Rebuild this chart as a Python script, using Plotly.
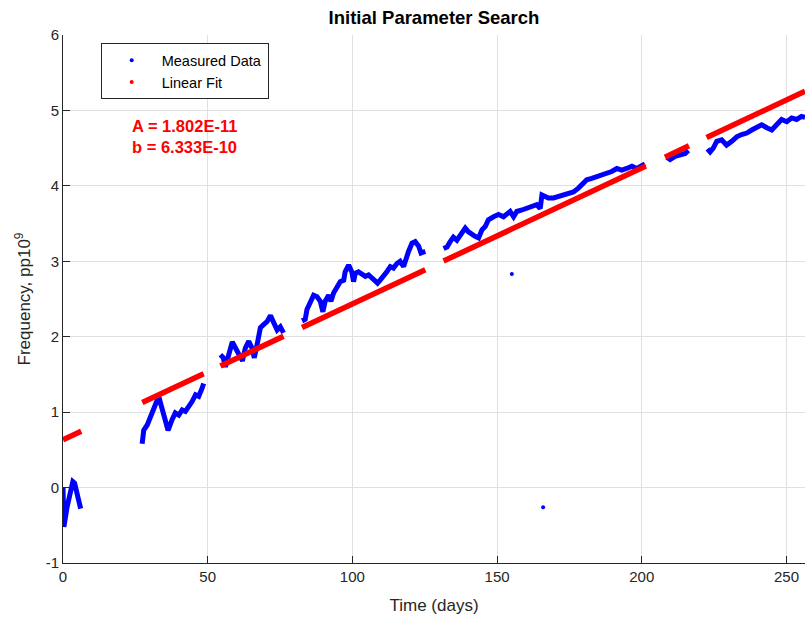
import plotly.graph_objects as go

# ---- Measured data (days, pp10^9), segments separated by None ----
seg1_t = [0.0, 0.1, 0.3, 1.45, 2.6, 3.4, 4.0, 4.9, 5.45, 6.1]
seg1_y = [0.0, -0.3, -0.52, -0.25, -0.08, 0.08, 0.06, -0.12, -0.19, -0.28]

seg2_t = [27.35, 27.9, 29.1, 30.2, 31.9, 33.1, 33.7, 34.8, 36.3, 37.7, 38.8, 40.0,
          41.2, 42.3, 43.4, 44.6, 45.8, 46.9, 48.1, 48.6]
seg2_y = [0.58, 0.76, 0.83, 0.94, 1.12, 1.21, 1.12, 0.94, 0.76, 0.90, 0.99, 0.96,
          1.03, 1.01, 1.07, 1.14, 1.23, 1.21, 1.32, 1.38]

seg3_t = [54.4, 55.4, 56.1, 57.3, 58.5, 59.6, 60.7, 62.0, 63.0, 64.2, 65.3, 66.1,
          67.2, 68.2, 69.3, 70.5, 71.7, 72.8, 74.0, 75.1, 76.2]
seg3_y = [1.76, 1.72, 1.60, 1.76, 1.93, 1.85, 1.76, 1.68, 1.85, 1.94, 1.85, 1.72,
          1.92, 2.12, 2.16, 2.20, 2.28, 2.18, 2.09, 2.13, 2.05]

seg4_t = [82.6, 83.7, 84.3, 85.5, 86.6, 87.8, 88.9, 89.8, 90.6, 91.8, 92.6, 93.5,
          94.7, 95.8, 97.0, 97.5, 98.7, 99.8, 100.4, 101.0, 102.1, 103.3, 104.5,
          105.6, 106.8, 107.9, 108.7, 109.6, 110.8, 111.9, 113.1, 114.2, 115.4,
          116.5, 117.7, 118.3, 119.4, 120.6, 121.7, 122.9, 123.7, 125.2]
seg4_y = [2.21, 2.23, 2.36, 2.47, 2.55, 2.53, 2.47, 2.33, 2.47, 2.55, 2.47, 2.58,
          2.66, 2.73, 2.75, 2.86, 2.95, 2.86, 2.73, 2.84, 2.86, 2.82, 2.80,
          2.82, 2.78, 2.75, 2.71, 2.75, 2.80, 2.86, 2.93, 2.91, 2.97,
          3.00, 2.93, 3.02, 3.13, 3.24, 3.26, 3.20, 3.11, 3.13]

seg5_t = [131.5, 132.7, 133.8, 134.9, 136.1, 137.3, 139.0, 140.1, 141.3, 142.4,
          143.6, 144.8, 145.9, 147.0, 148.8, 150.5, 152.2, 153.4, 154.5, 155.7,
          156.8, 158.6, 160.3, 162.0, 163.7, 164.9, 165.5, 166.6, 167.7, 169.5,
          171.2, 172.9, 174.7, 176.4, 178.1, 179.8, 181.0, 182.7, 184.5, 186.2,
          187.9, 189.6, 191.4, 193.1, 194.8, 196.6, 198.3, 200.0, 201.1]
seg5_y = [3.17, 3.19, 3.26, 3.32, 3.28, 3.35, 3.44, 3.39, 3.35, 3.33,
          3.31, 3.42, 3.46, 3.55, 3.59, 3.62, 3.59, 3.62, 3.66, 3.59,
          3.66, 3.68, 3.70, 3.73, 3.75, 3.70, 3.88, 3.86, 3.84, 3.84,
          3.86, 3.88, 3.90, 3.92, 3.97, 4.04, 4.08, 4.10, 4.12, 4.15,
          4.17, 4.19, 4.23, 4.21, 4.23, 4.26, 4.23, 4.26, 4.29]

seg6_t = [208.6, 209.8, 211.5, 213.8, 215.0, 216.1]
seg6_y = [4.38, 4.35, 4.39, 4.42, 4.43, 4.47]

seg7_t = [222.7, 223.6, 224.7, 225.9, 227.6, 229.3, 231.1, 232.8, 234.5, 236.3,
          238.0, 239.7, 241.4, 243.2, 244.9, 246.6, 248.3, 250.1, 251.8, 253.5,
          255.2, 256.4]
seg7_y = [4.49, 4.45, 4.50, 4.59, 4.61, 4.54, 4.59, 4.65, 4.68, 4.70,
          4.74, 4.77, 4.81, 4.77, 4.74, 4.81, 4.88, 4.85, 4.90, 4.88,
          4.92, 4.91]

outlier_t = [155.1, 165.9]
outlier_y = [2.83, -0.26]

# ---- Linear fit (A = 1.802E-11, b = 6.333E-10), segment ends ----
fit_t = [0.0, 6.3, None, 27.4, 48.6, None, 54.4, 76.2, None, 82.6, 125.2, None,
         131.5, 201.4, None, 208.0, 216.3, None, 222.4, 256.4]
fit_y = [0.633, 0.747, None, 1.127, 1.509, None, 1.613, 2.006, None, 2.122, 2.889, None,
         3.003, 4.263, None, 4.381, 4.531, None, 4.641, 5.254]

x_ticks = [0, 50, 100, 150, 200, 250]
y_ticks = [-1, 0, 1, 2, 3, 4, 5, 6]
y_tick_labels = ["-1", "0", "1", "2", "3", "4", "5", "6"]

segs_t = [seg1_t, seg2_t, seg3_t, seg4_t, seg5_t, seg6_t, seg7_t]
segs_y = [seg1_y, seg2_y, seg3_y, seg4_y, seg5_y, seg6_y, seg7_y]
meas_t, meas_y = [], []
for st, sy in zip(segs_t, segs_y):
    meas_t += st + [None]
    meas_y += sy + [None]

BLUE = "rgb(0,0,255)"
RED = "rgb(255,0,0)"
FONT = "Liberation Sans, Arial, sans-serif"
DARK = "#262626"

fig = go.Figure()
fig.add_trace(go.Scatter(x=meas_t, y=meas_y, mode="lines",
                         line=dict(color=BLUE, width=5), showlegend=False))
fig.add_trace(go.Scatter(x=outlier_t, y=outlier_y, mode="markers",
                         marker=dict(color=BLUE, size=4), showlegend=False))
fig.add_trace(go.Scatter(x=fit_t, y=fit_y, mode="lines",
                         line=dict(color=RED, width=5.5), showlegend=False))
# legend entries
fig.add_trace(go.Scatter(x=[None], y=[None], mode="markers", name="Measured Data",
                         marker=dict(color=BLUE, size=4)))
fig.add_trace(go.Scatter(x=[None], y=[None], mode="markers", name="Linear Fit",
                         marker=dict(color=RED, size=4)))

fig.add_annotation(x=23.3, y=4.79, xref="x", yref="y", text="<b>A = 1.802E-11</b>",
                   showarrow=False, xanchor="left", yanchor="middle",
                   font=dict(family=FONT, size=16.5, color=RED))
fig.add_annotation(x=23.3, y=4.51, xref="x", yref="y", text="<b>b = 6.333E-10</b>",
                   showarrow=False, xanchor="left", yanchor="middle",
                   font=dict(family=FONT, size=16.5, color=RED))

fig.update_layout(
    width=805, height=618,
    margin=dict(l=63, r=0, t=35, b=55),
    paper_bgcolor="white", plot_bgcolor="white",
    font=dict(family=FONT, size=15, color=DARK),
    title=dict(text="<b>Initial Parameter Search</b>", x=(63 + 805) / 2 / 805,
               xanchor="center", y=1 - 18 / 618, yanchor="middle", xref="container",
               font=dict(family=FONT, size=18.5, color="#000000")),
    legend=dict(x=(100.7 - 63) / 742, y=(563 - 43.3) / 528, xanchor="left", yanchor="top",
                bordercolor=DARK, borderwidth=1, bgcolor="white",
                font=dict(family=FONT, size=14.5, color="#000000"),
                itemwidth=50, tracegroupgap=0),
    xaxis=dict(range=[0, 256.4], tickvals=x_ticks, showgrid=True, gridcolor="#e0e0e0",
               showline=True, linecolor=DARK, linewidth=1, ticks="inside", ticklen=7,
               tickcolor=DARK, zeroline=False,
               title=dict(text="Time (days)", font=dict(size=17, color=DARK))),
    yaxis=dict(range=[-1, 6], tickvals=y_ticks, ticktext=y_tick_labels, showgrid=True,
               gridcolor="#e0e0e0",
               showline=True, linecolor=DARK, linewidth=1, ticks="inside", ticklen=7,
               tickcolor=DARK, zeroline=False,
               title=dict(text="Frequency, pp10<sup>9</sup>", standoff=10,
                          font=dict(size=17, color=DARK))),
)

fig.write_html("out.html")
